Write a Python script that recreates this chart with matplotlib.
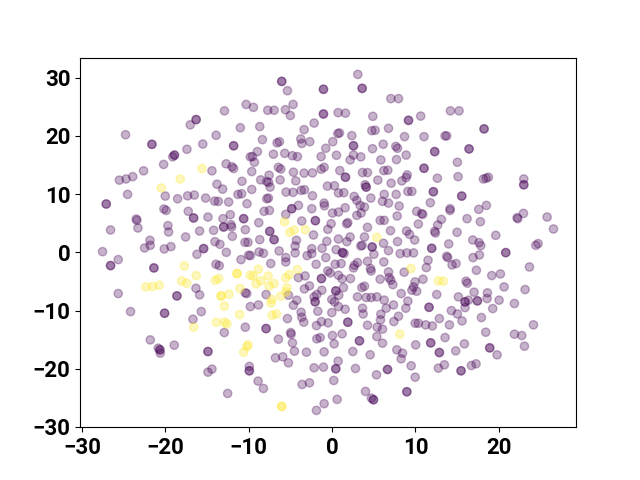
import matplotlib
matplotlib.use("Agg")
import matplotlib.pyplot as plt
import numpy as np

# label 0 points seen once
purple = [
    (-24.76, 20.2), (-17.0, 21.9), (-12.9, 24.3), (-10.3, 25.4), (-11.0, 21.4), (-13.9, 20.1),
    (-15.5, 18.6), (-17.4, 17.7), (-19.1, 16.4), (-20.2, 15.1), (-22.6, 14.0), (-23.9, 13.0),
    (-24.7, 12.6), (-25.5, 12.4), (-12.7, 15.2), (-12.0, 14.7), (-11.8, 14.4), (-9.8, 16.4),
    (-14.4, 14.0), (-10.8, 12.2), (-13.8, 11.7),
    (3.09, 30.56), (-5.35, 27.76), (7.05, 26.4), (7.97, 26.4), (-9.43, 24.9), (-4.67, 25.4),
    (-7.71, 24.4), (-6.95, 24.4), (-5.59, 24.5), (-5.0, 23.5), (0.73, 24.0), (1.61, 23.9),
    (4.89, 23.36), (-2.15, 22.2), (-8.67, 21.6), (-3.35, 21.07), (4.77, 20.9), (5.17, 20.96),
    (6.77, 21.3), (0.89, 20.5), (0.69, 20.4), (2.37, 20.04), (8.69, 19.87), (-8.35, 19.36),
    (-3.75, 19.47), (-3.63, 18.7), (-2.67, 19.0), (-6.59, 18.8), (-6.31, 19.0), (0.09, 19.0),
    (-0.75, 17.87), (4.85, 17.8), (6.13, 18.56), (7.65, 18.2), (7.85, 17.87), (-8.95, 17.3),
    (-9.55, 16.44), (-9.31, 15.47), (-7.03, 16.85), (-5.67, 17.0), (-4.75, 16.6), (-4.15, 16.44),
    (-1.31, 16.44), (0.53, 16.67), (2.57, 16.7), (2.17, 15.87), (3.45, 16.4), (5.85, 15.87),
    (7.73, 15.93), (8.89, 16.7), (-9.63, 13.87), (-7.55, 13.24), (-6.43, 14.6), (-6.15, 14.3),
    (-4.63, 13.76), (-3.35, 13.6), (-2.35, 13.64), (-1.31, 14.27), (-0.95, 14.6), (0.93, 14.04),
    (3.65, 13.7), (4.25, 13.7), (6.21, 14.04), (6.69, 14.1), (9.01, 13.3), (8.89, 12.84),
    (-8.55, 12.44), (-7.83, 12.15), (-7.6, 12.0), (-6.23, 12.44), (-4.35, 12.27), (5.49, 12.4),
    (7.09, 11.87), (8.37, 12.27), (3.97, 11.6),
    (10.63, 23.4), (14.19, 24.3), (15.23, 24.3), (11.03, 19.87), (13.55, 20.0), (13.75, 20.0),
    (15.03, 15.47), (12.63, 12.73), (15.11, 13.0), (18.15, 12.6), (18.47, 12.73), (18.75, 12.9),
    (22.99, 12.6),
    (-24.52, 9.95), (-20.0, 9.66), (-18.52, 9.2), (-17.32, 9.7), (-16.52, 9.84), (-15.16, 9.32),
    (-14.08, 8.8), (-13.64, 8.75), (-12.4, 8.64), (-11.28, 9.95), (-10.84, 10.06), (-13.12, 10.86),
    (-10.2, 8.35), (-20.16, 7.44), (-19.88, 7.2), (-17.24, 7.04), (-14.88, 6.06), (-23.48, 5.72),
    (-23.4, 5.5), (-23.28, 4.18), (-26.56, 3.84), (-19.68, 4.58), (-19.6, 3.5), (-15.88, 3.66),
    (-14.2, 3.78), (-13.08, 5.78), (-12.2, 6.46), (-12.12, 4.75), (-12.04, 4.35), (-10.4, 3.89),
    (-11.96, 2.75), (-17.56, 2.64), (-21.84, 2.06), (-22.48, 0.75), (-21.8, 1.2), (-20.12, 0.58),
    (-19.32, 0.98), (-14.04, 1.83), (-13.44, 1.38), (-16.2, -0.34), (-12.68, 0.0), (-10.44, 1.72),
    (-10.08, 1.72), (-27.52, 0.12), (-25.64, -1.25), (-13.92, -2.05), (-13.52, -2.28), (-10.92, -1.25),
    (-10.0, -0.5), (-25.64, -7.08), (-16.32, -6.17), (-15.88, -7.3), (-10.4, -6.96),
    (-9.63, 10.8), (-7.43, 11.2), (-0.55, 11.38), (0.29, 11.44), (-5.51, 10.35), (-4.67, 10.3),
    (-3.71, 10.64), (-3.31, 10.75), (-2.35, 9.72), (0.77, 10.2), (1.41, 10.24), (2.65, 9.6),
    (4.65, 9.32), (6.25, 9.95), (7.69, 9.95), (9.09, 10.46), (9.57, 10.46), (-7.63, 9.32),
    (-7.83, 9.2), (-4.03, 8.06), (-0.95, 8.46), (-0.91, 8.0), (-2.43, 7.49), (2.97, 8.92),
    (3.37, 8.06), (1.57, 7.66), (3.89, 7.78), (6.05, 8.75), (6.77, 8.46), (8.05, 7.95),
    (-8.15, 7.04), (-7.51, 7.2), (-5.55, 6.52), (0.05, 6.75), (0.77, 6.92), (3.49, 6.75),
    (2.97, 6.35), (5.77, 5.49), (6.25, 5.49), (7.81, 6.24), (-8.79, 5.09), (-3.63, 5.38),
    (-0.11, 4.92), (1.89, 5.1), (1.75, 4.9), (-2.23, 2.98), (-0.51, 3.95), (4.25, 4.29),
    (7.01, 3.72), (8.93, 3.66), (9.29, 3.09), (3.89, 2.64), (-8.67, 2.18), (0.77, 2.29),
    (2.17, 2.64), (1.77, 1.84), (-4.27, 2.06), (-4.43, 1.09), (-0.63, 1.89), (3.45, 1.09),
    (7.85, 1.84), (6.17, 1.55), (-1.19, 0.69), (-2.43, 0.63), (-4.43, -0.1), (-6.35, 0.24),
    (-8.75, 0.06), (-8.23, -0.16), (-9.79, -0.56), (0.49, 0.46), (1.45, -0.2), (3.61, 1.2),
    (5.01, -0.34), (6.77, 0.29), (8.17, -0.22), (8.97, -0.1), (9.77, -0.1), (-2.99, -0.56),
    (-2.43, -0.22), (-5.55, -0.9), (-5.55, -1.65), (-0.75, -0.9), (-7.35, -1.93), (-1.91, -2.05),
    (0.37, -2.05), (1.09, -1.93), (4.25, -1.54), (3.05, -1.76), (6.21, -1.65), (2.69, -2.22),
    (2.57, -2.68), (4.61, -2.79), (4.69, -3.2), (-0.51, -3.19), (-0.23, -3.54), (6.77, -3.36),
    (8.65, -3.42), (-4.03, -4.34), (-3.23, -4.05), (0.77, -3.94), (1.21, -4.56), (2.21, -4.51),
    (5.77, -4.62), (6.85, -4.34), (7.05, -4.79), (7.29, -5.54), (9.77, -5.94), (9.57, -6.5),
    (1.37, -6.05), (3.89, -5.82), (3.57, -6.05), (-1.23, -6.51), (-2.71, -5.76), (-3.31, -6.28),
    (-1.83, -7.25), (-2.15, -7.65), (-7.91, -7.25), (-10.23, -7.08), (-0.03, -8.1), (0.81, -7.36),
    (3.05, -7.65), (4.09, -7.76), (4.69, -7.76), (5.37, -7.65), (6.25, -8.2), (8.29, -7.08),
    (9.09, -8.39), (-4.23, -8.22), (-5.23, -7.36), (0.29, -8.5), (-4.63, -9.08),
    (11.79, 8.52), (18.51, 8.06), (17.59, 7.38), (14.15, 7.49), (14.15, 7.2), (10.15, 7.04),
    (10.75, 6.64), (10.87, 6.52), (13.11, 5.66), (12.67, 4.69), (16.19, 5.78), (17.79, 5.26),
    (10.35, 4.86), (22.95, 6.69), (22.19, 5.95), (22.27, 5.78), (25.79, 6.06), (26.55, 4.01),
    (12.31, 3.61), (12.39, 3.32), (14.99, 3.44), (19.63, 2.92), (9.91, 2.12), (16.87, 2.12),
    (17.63, 1.66), (17.83, 1.15), (13.99, 1.44), (24.43, 1.21), (24.71, 1.5), (13.75, -0.68),
    (13.87, -0.9), (17.67, -0.45), (16.91, -0.9), (11.51, -1.36), (14.87, -1.93), (14.39, -2.16),
    (11.31, -2.62), (23.67, -2.51), (17.31, -3.08), (19.15, -3.99), (20.19, -3.71), (10.91, -4.62),
    (9.95, -5.08), (16.07, -4.96), (16.23, -5.3), (20.63, -5.94), (23.15, -6.39), (10.15, -6.68),
    (12.55, -7.25), (17.03, -6.85), (18.63, -6.96), (18.59, -7.94), (15.15, -7.65), (16.35, -8.22),
    (20.03, -8.22), (21.87, -8.79),
    (-24.16, -10.18), (-15.68, -10.18), (-16.68, -11.49), (-9.8, -9.32), (-10.4, -12.86),
    (-12.92, -13.78), (-21.8, -15.04), (-20.84, -16.46), (-20.6, -17.32), (-18.92, -15.95),
    (-14.4, -20.06), (-14.88, -20.58), (-9.92, -19.6), (-12.52, -24.24),
    (-8.83, -9.04), (-5.35, -11.38), (-3.71, -10.29), (-3.63, -11.15), (-3.39, -12.0), (-1.71, -10.12),
    (-0.03, -10.35), (0.77, -9.32), (1.57, -9.78), (3.65, -9.6), (3.73, -10.58), (6.49, -9.6),
    (7.37, -9.04), (8.85, -9.6), (5.85, -10.64), (5.81, -11.6), (7.97, -10.98), (7.41, -11.89),
    (9.97, -12.18), (-1.27, -11.9), (-1.87, -12.58), (-0.47, -12.12), (4.25, -12.52), (5.41, -12.86),
    (6.05, -13.2), (-4.95, -13.78), (-4.91, -14.06), (0.05, -14.29), (1.21, -14.0), (-6.43, -14.92),
    (-1.83, -14.86), (-1.43, -14.64), (5.37, -14.46), (6.05, -15.6), (-4.75, -15.55), (0.25, -15.72),
    (-4.51, -16.98), (-3.07, -17.15), (-0.95, -17.09), (2.49, -17.04), (4.57, -17.6), (7.77, -16.75),
    (8.45, -17.32), (8.29, -18.29), (-6.79, -18.12), (-5.91, -17.95), (-5.23, -18.98), (0.73, -18.69),
    (-2.15, -19.83), (-1.03, -19.72), (2.81, -19.95), (9.49, -19.49), (5.33, -21.04), (9.97, -21.44),
    (-8.87, -22.12), (-8.23, -23.38), (-3.59, -22.69), (-2.71, -22.41), (0.21, -22.01), (4.01, -23.89),
    (4.73, -25.04), (0.61, -25.26), (-0.95, -26.0), (-1.87, -27.15),
    (15.95, -9.49), (19.27, -9.66), (14.31, -10.01), (15.03, -10.58), (17.91, -11.2), (12.87, -11.38),
    (15.59, -11.78), (10.35, -12.18), (11.23, -12.46), (12.03, -12.64), (14.07, -12.46), (24.15, -12.46),
    (18.43, -13.72), (21.87, -14.06), (22.75, -14.29), (13.55, -14.64), (23.07, -16.12), (10.03, -15.89),
    (15.87, -15.72), (14.83, -16.92), (19.79, -17.61), (13.47, -19.32), (12.75, -19.89), (17.27, -19.15),
    (16.71, -19.44),
]
# label 0 points that sit on top of each other, twice as dark
purple_twice = [
    (-21.6, 18.55), (-11.8, 18.3), (-16.3, 22.8), (-18.9, 16.7), (-6.03, 29.36), (-1.03, 28.0),
    (3.61, 28.16), (-1.03, 23.76), (9.17, 22.67), (2.57, 18.3), (1.61, 12.9), (4.09, 11.2),
    (18.23, 21.2), (12.31, 17.3), (16.43, 17.76), (11.03, 14.44), (22.99, 11.6), (-27.08, 8.3),
    (-16.6, 5.9), (-10.6, 5.78), (-13.0, 4.35), (-15.4, 0.64), (-26.56, -2.28), (-21.36, -2.68),
    (-18.6, -7.48), (-4.83, 7.49), (-2.0, 5.44), (-7.47, 3.6), (-6.95, 2.18), (4.81, 0.92),
    (1.25, -0.05), (-1.27, -4.51), (0.45, -6.62), (-2.03, -8.5), (12.15, 10.41), (15.55, 9.66),
    (11.95, 0.69), (20.83, -0.05), (15.95, -8.51), (17.43, -8.34), (-20.08, -10.46), (-14.88, -17.04),
    (-20.64, -16.75), (-9.92, -20.35), (1.89, -12.0), (-7.91, -13.09), (3.29, -15.2), (0.45, -20.0),
    (6.65, -20.12), (8.97, -23.95), (4.97, -25.32), (11.83, -15.55), (12.87, -17.21), (18.91, -16.41),
    (15.47, -20.35), (11.63, -9.44),
]
# label 1 points
yellow = [
    (-15.6, 14.4), (-18.2, 12.6), (-20.48, 11.04), (-17.72, -2.34), (-16.28, -3.99), (-18.04, -4.9),
    (-17.44, -5.3), (-14.0, -4.79), (-13.6, -4.5), (-22.32, -5.94), (-21.52, -5.88), (-20.72, -5.65),
    (-11.04, -6.22), (-12.36, -7.19), (-12.92, -9.25), (-9.8, -3.93),
    (-5.71, 5.26), (-5.07, 3.44), (-4.55, 3.84), (-3.23, 3.89), (5.37, 2.58), (9.45, -2.79),
    (-8.83, -2.9), (-9.47, -4.05), (-7.67, -4.05), (-8.55, -4.91), (-9.11, -5.42), (-6.95, -5.36),
    (-7.55, -5.76), (-5.55, -4.39), (-5.15, -3.82), (-4.15, -2.96), (-5.43, -6.1), (-5.51, -6.79),
    (-6.15, -7.54), (-7.23, -8.1), (-7.31, -8.7), (12.75, -4.91), (13.35, -4.96),
    (-16.6, -12.86), (-11.08, -10.69), (-13.88, -12.0), (-12.88, -12.0), (-12.6, -12.3),
    (-10.6, -17.15), (-10.2, -16.18), (-10.08, -15.89), (-7.19, -10.81), (-6.67, -10.58), (8.13, -14.06),
]
yellow_twice = [(-11.4, -3.65), (-13.3, -7.5), (-6.03, -26.46)]

pts = np.array(purple + purple_twice * 2 + yellow + yellow_twice * 2)
labels = [0] * (len(purple) + 2 * len(purple_twice)) + [1] * (len(yellow) + 2 * len(yellow_twice))

plt.rcParams['font.family'] = ['Roboto', 'DejaVu Sans']
plt.rcParams['font.weight'] = 'bold'
plt.rcParams['font.size'] = 16

fig, ax = plt.subplots(figsize=(6.4, 4.8), dpi=100)
ax.scatter(pts[:, 0], pts[:, 1], c=labels, alpha=0.3)
ax.set_xticks([-30, -20, -10, 0, 10, 20])
ax.set_yticks([-30, -20, -10, 0, 10, 20, 30])

plt.savefig("out.png", dpi=100)
